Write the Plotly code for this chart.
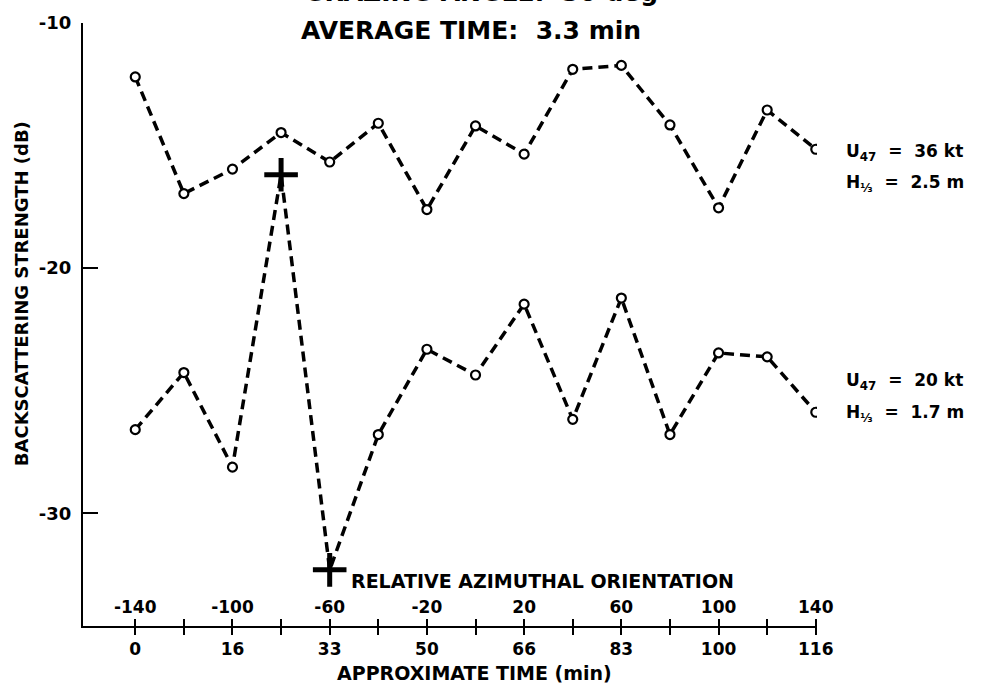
import plotly.graph_objects as go

# Relative azimuthal orientation (deg) of each measurement
azimuth = [-140, -120, -100, -80, -60, -40, -20, 0, 20, 40, 60, 80, 100, 120, 140]

# Labelled tick positions: azimuth above the axis, approximate time (min) below
az_ticks = [-140, -100, -60, -20, 20, 60, 100, 140]
az_labels = ["-140", "-100", "-60", "-20", "20", "60", "100", "140"]
time_labels = ["0", "16", "33", "50", "66", "83", "100", "116"]

# Backscattering strength (dB)
strength_36kt = [-12.2, -16.96, -15.96, -14.47, -15.67, -14.09, -17.61, -14.2,
                 -15.35, -11.89, -11.73, -14.16, -17.54, -13.55, -15.15]
strength_20kt = [-26.59, -24.26, -28.12, -16.19, -32.31, -26.79, -23.31, -24.36,
                 -21.47, -26.17, -21.22, -26.79, -23.46, -23.62, -25.88]
# indices of the 20 kt run drawn with a cross instead of a circle
cross_idx = [3, 4]

y_ticks = [-10, -20, -30]
y_labels = ["-10", "-20", "-30"]

FONT = "DejaVu Sans, Verdana, sans-serif"
BLACK = "#000000"

fig = go.Figure()

line_style = dict(color=BLACK, width=3.5, dash="10px,6px")
circle_style = dict(symbol="circle", size=9, color="white", line=dict(color=BLACK, width=2.2))

# 36 kt run
fig.add_trace(go.Scatter(x=azimuth, y=strength_36kt, mode="lines", line=line_style,
                         hoverinfo="skip", showlegend=False))
fig.add_trace(go.Scatter(x=azimuth, y=strength_36kt, mode="markers", marker=circle_style,
                         showlegend=False))

# 20 kt run
fig.add_trace(go.Scatter(x=azimuth, y=strength_20kt, mode="lines", line=line_style,
                         hoverinfo="skip", showlegend=False))
circ_x = [a for i, a in enumerate(azimuth) if i not in cross_idx]
circ_y = [v for i, v in enumerate(strength_20kt) if i not in cross_idx]
fig.add_trace(go.Scatter(x=circ_x, y=circ_y, mode="markers", marker=circle_style,
                         showlegend=False))
fig.add_trace(go.Scatter(x=[azimuth[i] for i in cross_idx],
                         y=[strength_20kt[i] for i in cross_idx],
                         mode="markers",
                         marker=dict(symbol="cross-thin", size=24,
                                     line=dict(color=BLACK, width=5)),
                         showlegend=False))

# helper trace so the azimuth axis is drawn
fig.add_trace(go.Scatter(x=[azimuth[0]], y=[strength_20kt[0]], xaxis="x2",
                         mode="markers", marker=dict(opacity=0), hoverinfo="skip",
                         showlegend=False))

minor_vals = [a for a in azimuth if a not in az_ticks]
x_range = [-161.5, 140.5]
tick_font = dict(family=FONT, size=17, color=BLACK, weight="bold")

fig.update_layout(
    width=982, height=686,
    margin=dict(l=83, r=165, t=19, b=60),
    paper_bgcolor="white", plot_bgcolor="white",
    xaxis=dict(range=x_range, tickmode="array", tickvals=az_ticks, ticktext=time_labels,
               ticks="outside", ticklen=7, tickwidth=2, tickcolor=BLACK,
               minor=dict(tickmode="array", tickvals=minor_vals, ticks="outside",
                          ticklen=7, tickwidth=2, tickcolor=BLACK, showgrid=False),
               showline=True, linewidth=2, linecolor=BLACK, showgrid=False,
               zeroline=False, tickfont=tick_font, ticklabeloverflow="allow",
               fixedrange=True),
    xaxis2=dict(range=x_range, overlaying="x", anchor="y", side="bottom",
                tickmode="array", tickvals=az_ticks, ticktext=az_labels,
                ticks="inside", ticklen=7, tickwidth=2, tickcolor=BLACK,
                minor=dict(tickmode="array", tickvals=minor_vals, ticks="inside",
                           ticklen=7, tickwidth=2, tickcolor=BLACK, showgrid=False),
                ticklabelposition="inside", ticklabelstandoff=3,
                ticklabeloverflow="allow",
                showline=False, showgrid=False, zeroline=False,
                tickfont=tick_font, fixedrange=True),
    yaxis=dict(range=[-34.6, -10], tickmode="array", tickvals=y_ticks, ticktext=y_labels,
               ticks="inside", ticklen=15, tickwidth=2, tickcolor=BLACK,
               showline=True, linewidth=2, linecolor=BLACK, showgrid=False,
               zeroline=False, tickfont=dict(family=FONT, size=18, color=BLACK, weight="bold"),
               ticklabelstandoff=6, ticklabeloverflow="allow", fixedrange=True),
)


def px(x):
    return (x - 83) / 734


def py(y):
    return (626 - y) / 607


def note(text, x, y, size=15, xanchor="center", angle=0):
    fig.add_annotation(text=text, x=px(x), y=py(y), xref="paper", yref="paper",
                       showarrow=False, xanchor=xanchor, yanchor="middle",
                       textangle=angle,
                       font=dict(family=FONT, size=size, color=BLACK, weight="bold"))


note("GRAZING ANGLE:  30 deg", 481, -12, size=25)
note("AVERAGE TIME:  3.3 min", 471, 27, size=25)
note("BACKSCATTERING STRENGTH (dB)", 21, 292, size=18, angle=-90)
note("APPROXIMATE TIME (min)", 474, 673, size=19)
note("RELATIVE AZIMUTHAL ORIENTATION", 349, 581, size=19, xanchor="left")

note("U<sub>47</sub>  =  36 kt", 844, 149, size=17, xanchor="left")
note("H<sub>⅓</sub>  =  2.5 m", 844, 181, size=17, xanchor="left")
note("U<sub>47</sub>  =  20 kt", 844, 380, size=17, xanchor="left")
note("H<sub>⅓</sub>  =  1.7 m", 844, 412, size=17, xanchor="left")

fig.write_html("out.html")
